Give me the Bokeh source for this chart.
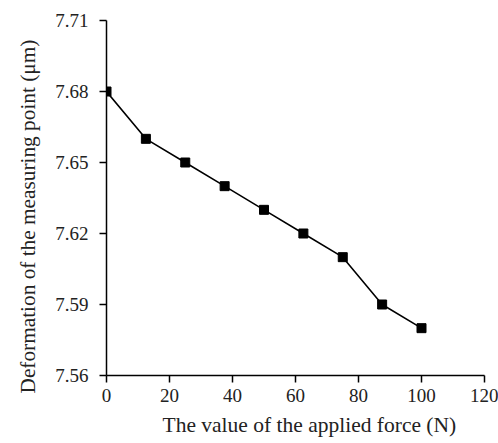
from bokeh.plotting import figure
from bokeh.models import FixedTicker, Range1d, PrintfTickFormatter, Title
from bokeh.embed import file_html
from bokeh.resources import INLINE

force = [0, 12.5, 25, 37.5, 50, 62.5, 75, 87.5, 100]
deformation = [7.68, 7.66, 7.65, 7.64, 7.63, 7.62, 7.61, 7.59, 7.58]
x_ticks = [0, 20, 40, 60, 80, 100, 120]
y_ticks = [7.56, 7.59, 7.62, 7.65, 7.68, 7.71]
x_title = "The value of the applied force (N)"
y_title = "Deformation of the measuring point (\u03bcm)"

FONT = "Liberation Serif"

p = figure(width=498, height=443, output_backend="svg", toolbar_location=None,
           x_range=Range1d(0, 120), y_range=Range1d(7.56, 7.71),
           min_border_left=106, min_border_right=14, min_border_top=20, min_border_bottom=68)
p.outline_line_color = None
p.xgrid.visible = False
p.ygrid.visible = False

p.line(force, deformation, line_color="black", line_width=1.6)
p.scatter(force, deformation, marker="square", size=9, fill_color="black", line_color="black")

for ax in (p.xaxis[0], p.yaxis[0]):
    ax.axis_line_width = 1.5
    ax.major_tick_line_width = 1.5
    ax.major_tick_in = 0
    ax.major_tick_out = 7
    ax.minor_tick_line_color = None
    ax.major_label_text_font = FONT
    ax.major_label_text_font_size = "19px"
    ax.major_label_text_color = "#222222"

p.xaxis.ticker = FixedTicker(ticks=x_ticks)
p.yaxis.ticker = FixedTicker(ticks=y_ticks)
p.yaxis.formatter = PrintfTickFormatter(format="%.2f")
p.xaxis.major_label_standoff = 6
p.yaxis.major_label_standoff = 11

p.add_layout(Title(text=x_title, align="left", offset=56, standoff=12,
                   text_font=FONT, text_font_size="21.5px", text_font_style="normal",
                   text_color="#222222"), "below")
p.add_layout(Title(text=y_title, align="left", offset=-18, standoff=26,
                   text_font=FONT, text_font_size="21.3px", text_font_style="normal",
                   text_color="#222222"), "left")

open("out.html", "w").write(file_html(p, INLINE))
